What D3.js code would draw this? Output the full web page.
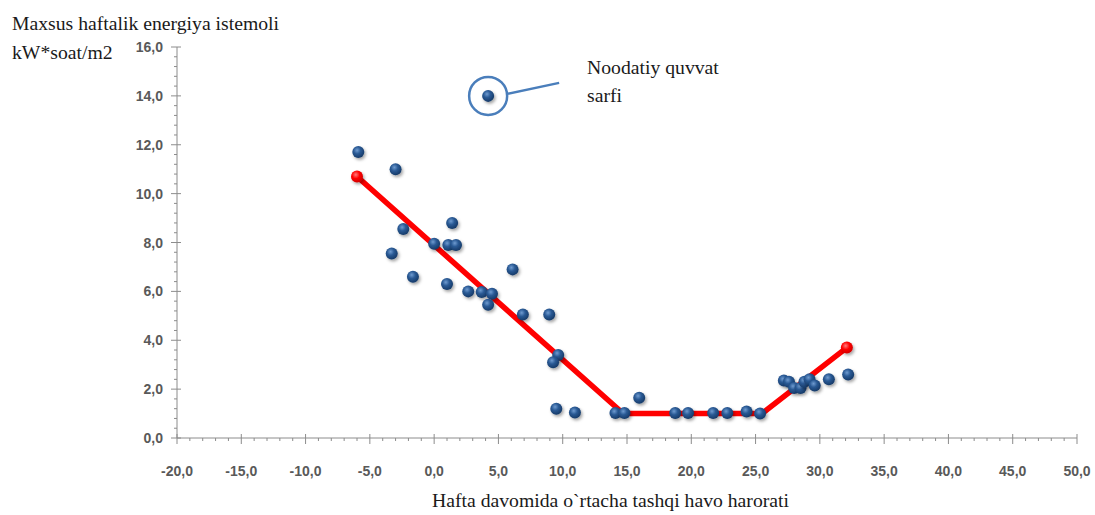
<!DOCTYPE html>
<html>
<head>
<meta charset="utf-8">
<script src="https://cdn.jsdelivr.net/npm/d3@7"></script>
<style>
  html, body { margin: 0; padding: 0; background: #fff; }
  svg { display: block; }
  .tick-label { font-family: "Liberation Sans", Arial, sans-serif; font-weight: bold; font-size: 14px; fill: #595959; }
  .title { font-family: "Liberation Serif", "Times New Roman", serif; font-size: 19.7px; fill: #1a1a1a; }
</style>
</head>
<body>
<script>
// ---- data ----
const tempX = [-5.9, -3.0, -2.4, -3.3, -1.65, 0.0, 1.4, 1.1, 1.7, 1.0, 2.65, 3.7, 4.5, 4.2, 6.1, 6.9, 8.95, 9.65, 9.25, 9.5, 10.95,
               14.1, 14.8, 15.95, 18.75, 19.75, 21.7, 22.8, 24.3, 25.35,
               27.2, 27.6, 28.0, 28.5, 28.8, 29.2, 29.6, 30.7, 32.2];
const energyY = [11.7, 11.0, 8.55, 7.55, 6.6, 7.95, 8.8, 7.9, 7.9, 6.3, 6.0, 5.97, 5.9, 5.45, 6.9, 5.05, 5.05, 3.4, 3.1, 1.2, 1.04,
                 1.02, 1.02, 1.65, 1.02, 1.02, 1.02, 1.02, 1.08, 1.0,
                 2.35, 2.3, 2.05, 2.05, 2.3, 2.4, 2.15, 2.4, 2.6];
const anomalyX = [4.2];
const anomalyY = [14.0];
const fitX = [-6.0, 14.7, 25.5, 32.1];
const fitY = [10.7, 1.0, 1.0, 3.7];
const xTicks = [-20, -15, -10, -5, 0, 5, 10, 15, 20, 25, 30, 35, 40, 45, 50];
const yTicks = [0, 2, 4, 6, 8, 10, 12, 14, 16];
const yTitleLines = ["Maxsus haftalik energiya istemoli", "kW*soat/m2"];
const xTitle = "Hafta davomida o`rtacha tashqi havo harorati";
const noteLines = ["Noodatiy quvvat", "sarfi"];

// ---- layout ----
const W = 1095, H = 515;
const svg = d3.select("body").append("svg").attr("width", W).attr("height", H);
const x = d3.scaleLinear().domain([-20, 50]).range([177, 1077]);
const y = d3.scaleLinear().domain([0, 16]).range([438, 47]);
const fmt = v => v.toFixed(1).replace(".", ",");

const defs = svg.append("defs");
const blueGrad = defs.append("radialGradient").attr("id", "gBlue").attr("cx", "40%").attr("cy", "35%").attr("r", "65%");
blueGrad.append("stop").attr("offset", "0%").attr("stop-color", "#6f9bd0");
blueGrad.append("stop").attr("offset", "45%").attr("stop-color", "#2a5a95");
blueGrad.append("stop").attr("offset", "100%").attr("stop-color", "#163a68");
const redGrad = defs.append("radialGradient").attr("id", "gRed").attr("cx", "40%").attr("cy", "35%").attr("r", "65%");
redGrad.append("stop").attr("offset", "0%").attr("stop-color", "#ff7a7a");
redGrad.append("stop").attr("offset", "50%").attr("stop-color", "#ff0000");
redGrad.append("stop").attr("offset", "100%").attr("stop-color", "#d00000");
const shadow = defs.append("filter").attr("id", "shadow").attr("x", "-50%").attr("y", "-50%").attr("width", "200%").attr("height", "200%");
shadow.append("feDropShadow").attr("dx", 1.5).attr("dy", 2).attr("stdDeviation", 1.5).attr("flood-color", "#000").attr("flood-opacity", 0.35);

// ---- axes ----
const axisColor = "#8c8c8c";
const gx = svg.append("g");
gx.append("line").attr("x1", x(-20)).attr("x2", x(50)).attr("y1", y(0)).attr("y2", y(0)).attr("stroke", axisColor);
d3.range(-20, 50.01, 1).forEach(v => {
  const major = Math.abs(v % 5) < 1e-9;
  gx.append("line").attr("x1", x(v)).attr("x2", x(v))
    .attr("y1", y(0) - (major ? 4 : 0)).attr("y2", y(0) + (major ? 6 : 3))
    .attr("stroke", axisColor);
});
gx.selectAll("text.xl").data(xTicks).enter().append("text")
  .attr("class", "tick-label").attr("x", d => x(d)).attr("y", 476)
  .attr("text-anchor", "middle").text(fmt);

const gy = svg.append("g");
gy.append("line").attr("x1", x(-20)).attr("x2", x(-20)).attr("y1", y(0)).attr("y2", y(16)).attr("stroke", axisColor);
d3.range(0, 16.001, 0.4).forEach(v => {
  const major = Math.abs(v / 2 - Math.round(v / 2)) < 1e-6;
  gy.append("line").attr("x1", x(-20) - (major ? 6 : 3)).attr("x2", x(-20) + (major ? 4 : 0))
    .attr("y1", y(v)).attr("y2", y(v)).attr("stroke", axisColor);
});
gy.selectAll("text.yl").data(yTicks).enter().append("text")
  .attr("class", "tick-label").attr("x", 163).attr("y", d => y(d) + 5)
  .attr("text-anchor", "end").text(fmt);

// ---- titles ----
svg.append("text").attr("class", "title").attr("x", 12).attr("y", 30).text(yTitleLines[0]);
svg.append("text").attr("class", "title").attr("x", 12).attr("y", 59).text(yTitleLines[1]);
svg.append("text").attr("class", "title").attr("x", 432).attr("y", 507).text(xTitle);

// ---- fit line ----
const fitData = fitX.map((v, i) => [v, fitY[i]]);
svg.append("path").datum(fitData)
  .attr("d", d3.line().x(d => x(d[0])).y(d => y(d[1])))
  .attr("fill", "none").attr("stroke", "#ff0000").attr("stroke-width", 5.5).attr("stroke-linejoin", "round");

// ---- scatter points ----
const pts = tempX.map((v, i) => [v, energyY[i]]).concat(anomalyX.map((v, i) => [v, anomalyY[i]]));
svg.append("g").selectAll("circle").data(pts).enter().append("circle")
  .attr("cx", d => x(d[0])).attr("cy", d => y(d[1])).attr("r", 6)
  .attr("fill", "url(#gBlue)").attr("filter", "url(#shadow)");

// red end markers
svg.append("g").selectAll("circle").data([fitData[0], fitData[fitData.length - 1]]).enter().append("circle")
  .attr("cx", d => x(d[0])).attr("cy", d => y(d[1])).attr("r", 6)
  .attr("fill", "url(#gRed)").attr("filter", "url(#shadow)");

// ---- annotation ----
const ax = x(anomalyX[0]), ay = y(anomalyY[0]);
svg.append("circle").attr("cx", ax).attr("cy", ay).attr("r", 19)
  .attr("fill", "none").attr("stroke", "#4a7ebb").attr("stroke-width", 2.5);
svg.append("line").attr("x1", ax + 19).attr("y1", ay - 2).attr("x2", ax + 71).attr("y2", ay - 13)
  .attr("stroke", "#4a7ebb").attr("stroke-width", 2.5);
svg.append("text").attr("class", "title").attr("x", 587).attr("y", 74).text(noteLines[0]);
svg.append("text").attr("class", "title").attr("x", 587).attr("y", 102).text(noteLines[1]);
</script>
</body>
</html>
